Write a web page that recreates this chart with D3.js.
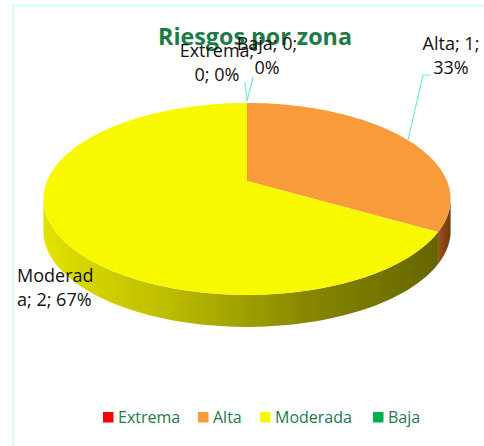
<!DOCTYPE html>
<html>
<head>
<meta charset="utf-8">
<script src="https://cdn.jsdelivr.net/npm/d3@7"></script>
<style>
  body { margin: 0; background: #fff; }
  svg { display: block; }
</style>
</head>
<body>
<div class="chart"></div>
<script>
// datos del gráfico
const categories = ["Extrema", "Alta", "Moderada", "Baja"];
const values = [0, 1, 2, 0];
const colors = ["#FF0000", "#F89B3A", "#F8F800", "#00B050"];
const chartTitle = "Riesgos por zona";

const width = 484, height = 446;

const svg = d3.select(".chart")
  .append("svg")
  .attr("width", width)
  .attr("height", height);

// borde del área del gráfico (solo se ve arriba e izquierda)
svg.append("path")
  .attr("d", "M13,450 L13,5.5 L490,5.5")
  .attr("fill", "none")
  .attr("stroke", "#D2FFEE")
  .attr("stroke-width", 2);

// geometría del pastel 3D con perspectiva
const cx = 247, cy = 181, A = 200, B = 92.6, k = 0.187, depth = 32;
const proj = (t, dy = 0) => {
  const w = 1 + k * Math.cos(t);
  return [cx + A * Math.sin(t) / w, cy - B * Math.cos(t) / w + dy];
};

// gradientes de la pared lateral
const defs = svg.append("defs");
const gY = defs.append("linearGradient").attr("id", "sideY")
  .attr("gradientUnits", "userSpaceOnUse")
  .attr("x1", 43).attr("x2", 451).attr("y1", 0).attr("y2", 0);
gY.append("stop").attr("offset", 0).attr("stop-color", "#E2E200");
gY.append("stop").attr("offset", 0.3).attr("stop-color", "#BDBD00");
gY.append("stop").attr("offset", 0.65).attr("stop-color", "#878700");
gY.append("stop").attr("offset", 1).attr("stop-color", "#626200");

const gO = defs.append("linearGradient").attr("id", "sideO")
  .attr("x1", 0).attr("x2", 1).attr("y1", 0).attr("y2", 0);
gO.append("stop").attr("offset", 0).attr("stop-color", "#9A5218");
gO.append("stop").attr("offset", 1).attr("stop-color", "#6E3A10");

const sideFill = { "Alta": "url(#sideO)", "Moderada": "url(#sideY)", "Extrema": "#990000", "Baja": "#006A30" };

const pie = d3.pie().sort(null).value(d => d.value);
const arcs = pie(categories.map((c, i) => ({ name: c, value: values[i], color: colors[i] })));

const line = d3.line();
const sample = (s, e, n = 80) => d3.range(n + 1).map(j => s + (e - s) * j / n);

// paredes laterales (parte visible frontal)
const tMin = Math.acos(-k), tMax = 2 * Math.PI - Math.acos(-k);
arcs.forEach(a => {
  const s = Math.max(a.startAngle, tMin);
  const e = Math.min(a.endAngle, tMax);
  if (e <= s) return;
  const ts = sample(s, e);
  const pts = ts.map(t => proj(t))
    .concat(ts.slice().reverse().map(t => proj(t, depth)));
  svg.append("path")
    .attr("d", line(pts) + "Z")
    .attr("fill", sideFill[a.data.name]);
});

// cara superior
svg.append("g")
  .selectAll("path")
  .data(arcs.filter(a => a.value > 0))
  .join("path")
  .attr("d", a => line([[cx, cy]].concat(sample(a.startAngle, a.endAngle).map(t => proj(t)))) + "Z")
  .attr("fill", a => a.data.color);

// título
svg.append("text")
  .attr("x", 255)
  .attr("y", 45)
  .attr("text-anchor", "middle")
  .attr("font-family", "'Open Sans', sans-serif")
  .attr("font-weight", "bold")
  .attr("font-size", 23)
  .attr("textLength", 194)
  .attr("lengthAdjust", "spacingAndGlyphs")
  .attr("fill", "#1E7A46")
  .text(chartTitle);

// líneas guía
const guides = [
  [[247, 101], [245, 82]],
  [[247, 101], [253, 77]],
  [[408, 140], [423, 75], [431, 75]]
];
svg.selectAll(".guide")
  .data(guides)
  .join("path")
  .attr("class", "guide")
  .attr("d", d => d3.line()(d))
  .attr("fill", "none")
  .attr("stroke", "#6FF0C2")
  .attr("stroke-width", 1.2);

// etiquetas de datos
const total = d3.sum(values);
const pct = v => Math.round(v / total * 100) + "%";
const labels = [
  { lines: ["Extrema;", `${values[0]}; ${pct(values[0])}`], x: 217, y: 57, anchor: "middle" },
  { lines: [`Baja; ${values[3]};`, pct(values[3])], x: 267, y: 50, anchor: "middle" },
  { lines: [`Alta; ${values[1]};`, pct(values[1])], x: 451, y: 50, anchor: "middle" },
  { lines: ["Moderad", `a; ${values[2]}; ${pct(values[2])}`], x: 17, y: 282, anchor: "start" }
];
labels.forEach(l => {
  const t = svg.append("text")
    .attr("font-family", "'Open Sans', sans-serif")
    .attr("font-size", 18)
    .attr("fill", "#111")
    .attr("text-anchor", l.anchor);
  l.lines.forEach((s, i) => {
    t.append("tspan").attr("x", l.x).attr("y", l.y + i * 23.5).text(s);
  });
});

// leyenda
const legendX = [103, 198, 260, 373];
const legend = svg.append("g");
categories.forEach((c, i) => {
  legend.append("rect")
    .attr("x", legendX[i]).attr("y", 412)
    .attr("width", 10.5).attr("height", 10.5)
    .attr("fill", colors[i]);
  legend.append("text")
    .attr("x", legendX[i] + 15).attr("y", 423)
    .attr("font-family", "'Open Sans', sans-serif")
    .attr("font-size", 16)
    .attr("fill", "#217A4A")
    .text(c);
});
</script>
</body>
</html>
